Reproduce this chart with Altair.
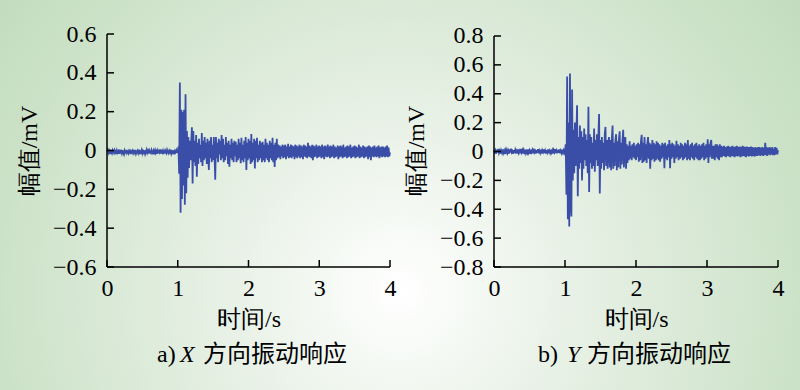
import altair as alt
import pandas as pd

# ---------------- data ----------------
TIME = [round(i * 0.01, 2) for i in range(401)]

# X-direction response (mV), t = 0.00 ... 4.00 s, step 0.01 s
X_RESP = [
    -0.005, 0.004, -0.012, -0.002, -0.018, 0.003, -0.010, -0.016, 0.001, -0.008,
    -0.014, 0.002, -0.006, -0.019, 0.000, -0.011, -0.004, -0.017, 0.004, -0.009,
    -0.003, -0.015, 0.002, -0.012, -0.020, 0.001, -0.007, -0.013, 0.003, -0.010,
    -0.016, -0.002, -0.009, 0.005, -0.018, -0.006, 0.000, -0.014, -0.004, -0.011,
    0.003, -0.017, -0.008, -0.001, -0.013, 0.004, -0.019, -0.005, -0.010, 0.002,
    -0.015, -0.003, -0.011, 0.001, -0.018, -0.007, 0.004, -0.012, -0.002, -0.016,
    0.000, -0.009, -0.014, 0.003, -0.006, -0.020, -0.001, -0.010, 0.002, -0.013,
    -0.004, -0.017, 0.001, -0.008, -0.012, 0.005, -0.015, -0.003, -0.010, 0.000,
    -0.018, -0.005, 0.002, -0.011, -0.016, 0.003, -0.007, -0.014, -0.001, -0.009,
    0.004, -0.016, -0.006, -0.012, 0.001, -0.019, -0.003, -0.010, 0.002, -0.008,
    -0.010, 0.020, -0.120, 0.350, -0.320, 0.210, -0.250, 0.200, -0.180, 0.210,
    -0.280, 0.290, -0.220, 0.100, -0.140, 0.070, -0.090, 0.050, -0.050, 0.040,
    0.120, -0.170, 0.100, -0.060, 0.050, -0.080, 0.080, -0.135, 0.040, -0.070,
    0.060, -0.040, 0.030, -0.060, 0.090, -0.080, 0.050, -0.050, 0.070, -0.040,
    0.040, -0.070, 0.060, -0.030, -0.100, 0.050, -0.040, 0.070, -0.060, 0.030,
    -0.050, 0.070, -0.030, -0.150, 0.070, -0.040, 0.040, -0.060, 0.060, -0.020,
    0.050, -0.050, 0.080, -0.040, 0.060, -0.060, 0.030, -0.050, 0.070, -0.030,
    0.040, -0.070, 0.050, -0.083, 0.030, -0.040, 0.060, -0.050, 0.040, -0.060,
    0.050, -0.030, 0.045, -0.060, 0.030, -0.050, 0.060, -0.040, 0.040, -0.065,
    0.065, -0.050, 0.030, -0.060, 0.050, -0.040, 0.070, -0.100, 0.040, -0.050,
    0.060, -0.040, 0.050, -0.070, 0.085, -0.060, 0.040, -0.050, 0.060, -0.093,
    0.050, -0.040, 0.065, -0.060, 0.030, -0.050, 0.050, -0.040, 0.040, -0.060,
    0.045, -0.050, 0.030, -0.060, 0.060, -0.040, 0.040, -0.050, 0.030, -0.060,
    0.050, -0.040, 0.040, -0.050, 0.065, -0.060, 0.030, -0.085, 0.040, -0.050,
    0.060, -0.040, 0.030, -0.035, 0.025, -0.045, 0.020, -0.030, 0.030, -0.040,
    0.025, -0.035, 0.030, -0.045, 0.020, -0.030, 0.035, -0.040, 0.020, -0.035,
    0.030, -0.040, 0.025, -0.030, 0.020, -0.045, 0.030, -0.035, 0.025, -0.040,
    0.020, -0.030, 0.030, -0.040, 0.025, -0.035, 0.020, -0.045, 0.030, -0.030,
    0.025, -0.035, 0.020, -0.040, 0.040, -0.030, 0.025, -0.035, 0.020, -0.040,
    0.030, -0.050, 0.025, -0.035, 0.020, -0.030, 0.030, -0.040, 0.020, -0.035,
    0.025, -0.030, 0.020, -0.040, 0.030, -0.035, 0.020, -0.045, 0.025, -0.030,
    0.020, -0.035, 0.030, -0.030, 0.020, -0.040, 0.025, -0.035, 0.020, -0.030,
    0.030, -0.040, 0.020, -0.035, 0.015, -0.030, 0.025, -0.045, 0.020, -0.035,
    0.025, -0.030, 0.020, -0.040, 0.030, -0.035, 0.015, -0.030, 0.020, -0.040,
    0.025, -0.035, 0.020, -0.030, 0.030, -0.040, 0.015, -0.035, 0.020, -0.030,
    0.025, -0.040, 0.020, -0.035, 0.015, -0.030, 0.030, -0.040, 0.020, -0.035,
    0.015, -0.030, 0.025, -0.040, 0.020, -0.035, 0.015, -0.030, 0.020, -0.045,
    0.025, -0.035, 0.020, -0.050, 0.015, -0.030, 0.020, -0.035, 0.025, -0.030,
    0.015, -0.035, 0.020, -0.030, 0.025, -0.040, 0.015, -0.030, 0.020, -0.035,
    0.020, -0.030, 0.015, -0.035, 0.020, -0.030, 0.025, -0.035, 0.015, -0.030,
    -0.010,
]

# Y-direction response (mV), t = 0.00 ... 4.00 s, step 0.01 s
Y_RESP = [
    0.010, -0.012, 0.005, -0.015, 0.012, -0.005, 0.018, -0.010, 0.004, -0.014,
    0.008, -0.006, 0.015, -0.012, 0.002, -0.018, 0.010, -0.004, 0.012, -0.010,
    0.005, -0.015, 0.014, -0.008, 0.020, -0.006, 0.003, -0.016, 0.010, -0.010,
    0.012, -0.004, 0.006, -0.014, 0.015, -0.010, 0.004, -0.012, 0.018, -0.006,
    0.008, -0.015, 0.010, -0.005, 0.013, -0.012, 0.002, -0.010, 0.014, -0.008,
    0.006, -0.016, 0.012, -0.004, 0.010, -0.012, 0.020, -0.006, 0.004, -0.014,
    0.010, -0.008, 0.016, -0.012, 0.005, -0.010, 0.012, -0.015, 0.008, -0.004,
    0.014, -0.010, 0.006, -0.014, 0.010, -0.006, 0.015, -0.012, 0.004, -0.010,
    0.012, -0.006, 0.008, -0.015, 0.010, -0.004, 0.016, -0.010, 0.006, -0.012,
    0.010, -0.008, 0.014, -0.012, 0.005, -0.010, 0.012, -0.006, 0.008, -0.012,
    0.000, 0.050, -0.300, 0.520, -0.470, 0.200, -0.520, 0.540, -0.350, -0.450,
    0.430, -0.200, 0.150, -0.150, 0.200, -0.100, 0.120, 0.320, -0.310, 0.100,
    -0.120, 0.180, -0.080, 0.140, -0.200, 0.100, -0.120, 0.160, -0.060, 0.120,
    -0.100, 0.080, -0.150, 0.310, -0.280, 0.120, -0.080, 0.100, -0.120, 0.060,
    -0.100, 0.160, -0.140, 0.080, -0.060, 0.120, -0.100, 0.100, 0.260, -0.290,
    0.080, -0.120, 0.100, -0.080, 0.060, -0.130, 0.120, 0.170, -0.100, 0.080,
    -0.120, 0.060, 0.100, -0.110, 0.080, -0.130, 0.090, 0.180, -0.120, 0.060,
    -0.100, 0.080, 0.120, -0.130, 0.070, -0.110, 0.090, 0.140, -0.120, 0.060,
    -0.090, 0.080, 0.150, -0.110, 0.060, 0.100, -0.120, 0.050, -0.080, 0.040,
    -0.060, 0.070, -0.050, 0.040, -0.060, 0.050, -0.040, 0.060, -0.050, 0.040,
    -0.060, 0.050, -0.040, 0.060, -0.070, 0.050, -0.060, 0.070, 0.115, -0.080,
    0.060, -0.070, 0.100, -0.060, 0.050, -0.080, 0.060, 0.100, -0.050, 0.060,
    -0.120, 0.050, -0.060, 0.080, -0.050, 0.060, -0.070, 0.050, -0.060, 0.070,
    -0.050, 0.060, -0.060, 0.050, -0.070, 0.040, -0.050, 0.060, -0.040, 0.050,
    -0.115, 0.060, -0.050, 0.040, -0.060, 0.050, -0.040, 0.080, -0.115, 0.050,
    -0.050, 0.060, -0.040, 0.050, -0.080, 0.040, -0.050, 0.075, -0.040, 0.050,
    -0.060, 0.040, -0.050, 0.060, -0.040, 0.050, -0.060, 0.040, -0.050, 0.060,
    -0.040, 0.050, -0.060, 0.080, -0.050, 0.040, -0.060, 0.050, -0.040, 0.060,
    -0.050, 0.040, -0.060, 0.050, -0.040, 0.060, -0.050, 0.040, -0.060, 0.050,
    -0.060, 0.040, -0.050, 0.050, -0.040, 0.060, -0.060, 0.040, -0.050, 0.050,
    -0.040, 0.085, -0.080, 0.050, -0.040, 0.060, 0.080, -0.050, 0.040, -0.050,
    0.040, -0.060, 0.050, -0.040, 0.050, -0.050, 0.040, -0.060, 0.050, -0.040,
    0.040, -0.040, 0.035, -0.030, 0.040, -0.035, 0.030, -0.040, 0.035, -0.030,
    0.040, -0.035, 0.030, -0.040, 0.035, -0.030, 0.040, -0.035, 0.030, -0.040,
    0.035, -0.030, 0.040, -0.035, 0.030, -0.030, 0.035, -0.040, 0.030, -0.035,
    0.040, -0.030, 0.035, -0.035, 0.030, -0.040, 0.035, -0.030, 0.030, -0.035,
    0.030, -0.030, 0.035, -0.035, 0.030, -0.030, 0.025, -0.035, 0.030, -0.030,
    0.025, -0.030, 0.030, -0.025, 0.030, -0.030, 0.025, -0.025, 0.030, -0.030,
    0.025, -0.025, 0.060, -0.025, 0.030, -0.030, 0.025, -0.020, 0.030, -0.025,
    0.025, -0.020, 0.030, -0.025, 0.020, -0.025, 0.030, -0.020, 0.025, -0.020,
    0.010,
]

X_TICKS = [0, 1, 2, 3, 4]
YA_TICKS = [-0.6, -0.4, -0.2, 0, 0.2, 0.4, 0.6]
YB_TICKS = [-0.8, -0.6, -0.4, -0.2, 0, 0.2, 0.4, 0.6, 0.8]

X_TITLE = "时间/s"
Y_TITLE = "幅值/mV"
CAP_A = ["a)", "X", "方向振动响应"]
CAP_B = ["b)", "Y", "方向振动响应"]

# ---------------- style ----------------
SERIF = "Liberation Serif"
CJK = "Noto Sans CJK SC"
FS = 24
LINE = "#3a4ea8"
GREEN = "#bad7b6"
H = 233
TICK = 7

LABEL_EXPR = "datum.value == 0 ? '0' : replace(format(datum.value, '.1f'), '-', '\u2212')"

BG = {
    "gradient": "radial",
    "x1": 0.5, "y1": 0.62, "r1": 0,
    "x2": 0.5, "y2": 0.62, "r2": 0.72,
    "stops": [
        {"offset": 0.0, "color": "#ffffff"},
        {"offset": 0.3, "color": "#e8f1e6"},
        {"offset": 0.7, "color": "#cce2c8"},
        {"offset": 1.0, "color": GREEN},
    ],
}


def one_row():
    return pd.DataFrame({"k": [0]})


def panel(values, yticks, ydomain, width, cap, cap_x, background):
    df = pd.DataFrame({"t": TIME, "v": values})
    xs = alt.Scale(domain=[0, 4], nice=False, zero=False)
    ys = alt.Scale(domain=ydomain, nice=False, zero=False)
    xax = alt.Axis(
        values=X_TICKS, format="d", ticks=False, domain=False, grid=False,
        labelFont=SERIF, labelFontSize=FS, labelColor="black", labelPadding=9,
        labelFlush=False, labelOverlap=False,
        title=X_TITLE, titleFont=SERIF, titleFontSize=FS, titleFontWeight="normal",
        titleColor="black", titlePadding=7, zindex=1)
    yax = alt.Axis(
        values=yticks, labelExpr=LABEL_EXPR, ticks=False, domain=False, grid=False,
        labelFont=SERIF, labelFontSize=FS, labelColor="black", labelPadding=11,
        labelFlush=False, labelOverlap=False,
        title=Y_TITLE, titleFont=SERIF, titleFontSize=FS, titleFontWeight="normal",
        titleColor="black", titlePadding=11, zindex=1)

    layers = []
    if background:
        layers.append(
            alt.Chart(one_row()).mark_rect(fill=BG).encode(
                x=alt.value(-107), x2=alt.value(693),
                y=alt.value(-34), y2=alt.value(356),
            )
        )

    line = alt.Chart(df).mark_line(color=LINE, strokeWidth=1.8).encode(
        x=alt.X("t:Q", scale=xs, axis=xax),
        y=alt.Y("v:Q", scale=ys, axis=yax),
    )
    layers.append(line)

    # axis lines (drawn as rules from the tick data)
    ydom = pd.DataFrame({"v": [yticks[0]], "v2": [yticks[-1]]})
    layers.append(
        alt.Chart(ydom).mark_rule(color="black", strokeWidth=1.5).encode(
            y=alt.Y("v:Q", axis=yax), y2="v2:Q", x=alt.value(0))
    )
    xdom = pd.DataFrame({"t": [X_TICKS[0]], "t2": [X_TICKS[-1]]})
    layers.append(
        alt.Chart(xdom).mark_rule(color="black", strokeWidth=1.5).encode(
            x=alt.X("t:Q", axis=xax), x2="t2:Q", y=alt.value(H))
    )
    # inward ticks
    layers.append(
        alt.Chart(pd.DataFrame({"v": yticks})).mark_rule(color="black", strokeWidth=1.5).encode(
            y=alt.Y("v:Q", axis=yax), x=alt.value(0), x2=alt.value(TICK))
    )
    layers.append(
        alt.Chart(pd.DataFrame({"t": X_TICKS})).mark_rule(color="black", strokeWidth=1.5).encode(
            x=alt.X("t:Q", axis=xax), y=alt.value(H), y2=alt.value(H - TICK))
    )
    # caption
    fonts = [SERIF, SERIF, CJK]
    styles = ["normal", "italic", "normal"]
    for txt, xp, fnt, sty in zip(cap, cap_x, fonts, styles):
        layers.append(
            alt.Chart(one_row()).mark_text(
                text=txt, font=fnt, fontSize=FS, fontStyle=sty, color="black",
                align="left", baseline="alphabetic",
            ).encode(x=alt.value(xp), y=alt.value(328))
        )

    return alt.layer(*layers).properties(width=width, height=H)


pa = panel(X_RESP, YA_TICKS, [-0.6, 0.6], 283, CAP_A, [50, 73, 96], True)
pb = panel(Y_RESP, YB_TICKS, [-0.8, 0.81385], 284, CAP_B, [44, 73, 93], False)

chart = alt.hconcat(pa, pb, spacing=104, bounds="flush").properties(
    padding=0, background=GREEN
).configure_view(stroke=None)

chart.save("out.html", embed_options={"renderer": "svg", "actions": False})
